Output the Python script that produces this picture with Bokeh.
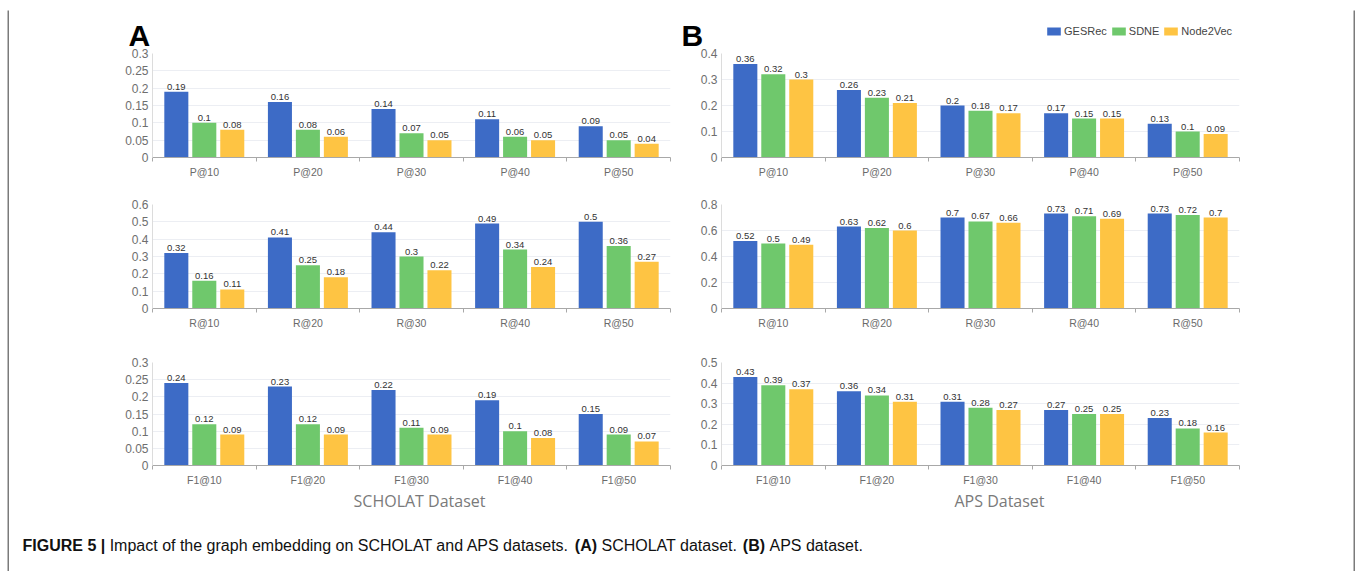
from bokeh.plotting import figure
from bokeh.layouts import column, row
from bokeh.models import (ColumnDataSource, FixedTicker, Label, Legend, LegendItem,
                          Range1d, CustomJSTickFormatter, Spacer)
from bokeh.transform import dodge
from bokeh.embed import file_html
from bokeh.resources import INLINE

# ---------------- data ----------------
methods = ["GESRec", "SDNE", "Node2Vec"]
colors = ["#3d6bc6", "#6fc86c", "#fec443"]

p_labels = ["P@10", "P@20", "P@30", "P@40", "P@50"]
r_labels = ["R@10", "R@20", "R@30", "R@40", "R@50"]
f1_labels = ["F1@10", "F1@20", "F1@30", "F1@40", "F1@50"]

scholat_p_gesrec = [0.19, 0.16, 0.14, 0.11, 0.09]
scholat_p_sdne = [0.1, 0.08, 0.07, 0.06, 0.05]
scholat_p_node2vec = [0.08, 0.06, 0.05, 0.05, 0.04]
scholat_r_gesrec = [0.32, 0.41, 0.44, 0.49, 0.5]
scholat_r_sdne = [0.16, 0.25, 0.3, 0.34, 0.36]
scholat_r_node2vec = [0.11, 0.18, 0.22, 0.24, 0.27]
scholat_f1_gesrec = [0.24, 0.23, 0.22, 0.19, 0.15]
scholat_f1_sdne = [0.12, 0.12, 0.11, 0.1, 0.09]
scholat_f1_node2vec = [0.09, 0.09, 0.09, 0.08, 0.07]

aps_p_gesrec = [0.36, 0.26, 0.2, 0.17, 0.13]
aps_p_sdne = [0.32, 0.23, 0.18, 0.15, 0.1]
aps_p_node2vec = [0.3, 0.21, 0.17, 0.15, 0.09]
aps_r_gesrec = [0.52, 0.63, 0.7, 0.73, 0.73]
aps_r_sdne = [0.5, 0.62, 0.67, 0.71, 0.72]
aps_r_node2vec = [0.49, 0.6, 0.66, 0.69, 0.7]
aps_f1_gesrec = [0.43, 0.36, 0.31, 0.27, 0.23]
aps_f1_sdne = [0.39, 0.34, 0.28, 0.25, 0.18]
aps_f1_node2vec = [0.37, 0.31, 0.27, 0.25, 0.16]

scholat_y_max = [0.3, 0.6, 0.3]
scholat_y_step = [0.05, 0.1, 0.05]
aps_y_max = [0.4, 0.8, 0.5]
aps_y_step = [0.1, 0.2, 0.1]

panel_letters = ["A", "B"]
dataset_names = ["SCHOLAT Dataset", "APS Dataset"]
caption_parts = [("FIGURE 5 |", True),
                 (" Impact of the graph embedding on SCHOLAT and APS datasets. ", False),
                 ("(A)", True), (" SCHOLAT dataset. ", False),
                 ("(B)", True), (" APS dataset.", False)]

FONT = "Liberation Sans"
BAR_OFFSETS = [-0.27, 0.0, 0.27]
BAR_WIDTH = 0.232


def make_chart(cats, series, ymax, ystep, width, height, ml, mr, mt, mb):
    n = len(cats)
    p = figure(width=width, height=height, x_range=Range1d(0, n), y_range=Range1d(0, ymax),
               output_backend="svg", toolbar_location=None, tools="",
               min_border_left=ml, min_border_right=mr, min_border_top=mt, min_border_bottom=mb,
               outline_line_color=None, background_fill_color="white", border_fill_color="white")
    data = dict(x=[i + 0.5 for i in range(n)], cat=list(cats))
    for k, vals in enumerate(series):
        data[f"s{k}"] = list(vals)
        data[f"t{k}"] = [str(v) for v in vals]
    src = ColumnDataSource(data)
    for k in range(len(series)):
        p.vbar(x=dodge("x", BAR_OFFSETS[k]), top=f"s{k}", width=BAR_WIDTH, source=src,
               fill_color=colors[k], line_color=None)
        p.text(x=dodge("x", BAR_OFFSETS[k]), y=f"s{k}", text=f"t{k}", source=src,
               text_font_size="9.5px", text_align="center", text_baseline="bottom",
               y_offset=-2, text_color="#333333", text_font={"value": FONT})
    yticks = [round(k * ystep, 4) for k in range(int(round(ymax / ystep)) + 1)]
    xa = p.xaxis[0]
    xa.ticker = FixedTicker(ticks=[i + 0.5 for i in range(n)], minor_ticks=list(range(n + 1)))
    xa.formatter = CustomJSTickFormatter(args=dict(cats=list(cats)),
                                         code="return cats[Math.floor(tick)];")
    xa.axis_line_color = "#a8a8a8"
    xa.major_tick_line_color = None
    xa.major_tick_out = 0
    xa.major_tick_in = 0
    xa.minor_tick_line_color = "#a8a8a8"
    xa.minor_tick_out = 4
    xa.minor_tick_in = 0
    xa.major_label_text_font = FONT
    xa.major_label_text_font_size = "10.5px"
    xa.major_label_text_color = "#6a6a6a"
    xa.major_label_standoff = 4
    ya = p.yaxis[0]
    ya.ticker = FixedTicker(ticks=yticks)
    ya.formatter = CustomJSTickFormatter(code="return String(Math.round(tick*1000)/1000);")
    ya.axis_line_color = "#dcdcdc"
    ya.major_tick_line_color = None
    ya.major_tick_out = 0
    ya.major_tick_in = 0
    ya.minor_tick_line_color = None
    ya.major_label_text_font = FONT
    ya.major_label_text_font_size = "12px"
    ya.major_label_text_color = "#6e6e6e"
    ya.major_label_standoff = 4
    p.xgrid.visible = False
    p.ygrid.ticker = FixedTicker(ticks=yticks)
    p.ygrid.grid_line_color = "#eceef3"
    return p


def blank_fig(w, h, fill="white"):
    b = figure(width=w, height=h, output_backend="svg", toolbar_location=None, tools="",
               min_border=0, x_axis_location=None, y_axis_location=None,
               x_range=Range1d(0, 1), y_range=Range1d(0, 1),
               background_fill_color=fill, border_fill_color=fill,
               outline_line_color=None)
    b.xgrid.visible = False
    b.ygrid.visible = False
    return b


# geometry (pixels)
CONTENT_W = 1344
WA, WB = 681, 663
A_ML, A_MR = 143, 20
B_ML, B_MR = 31, 114
ROWS = [(137, 5, 28), (155, 19, 32), (148, 22, 22)]
TOP_H = 38
BOT_H = 83

scholat_series = [
    (p_labels, [scholat_p_gesrec, scholat_p_sdne, scholat_p_node2vec]),
    (r_labels, [scholat_r_gesrec, scholat_r_sdne, scholat_r_node2vec]),
    (f1_labels, [scholat_f1_gesrec, scholat_f1_sdne, scholat_f1_node2vec]),
]
aps_series = [
    (p_labels, [aps_p_gesrec, aps_p_sdne, aps_p_node2vec]),
    (r_labels, [aps_r_gesrec, aps_r_sdne, aps_r_node2vec]),
    (f1_labels, [aps_f1_gesrec, aps_f1_sdne, aps_f1_node2vec]),
]

# top strip: panel letters + legend
top_strip = blank_fig(CONTENT_W, TOP_H)
for letter, lx in zip(panel_letters, [119, 672]):
    top_strip.add_layout(Label(x=lx, y=13, x_units="screen", y_units="screen", text=letter,
                               text_font=FONT, text_font_size="30px", text_font_style="bold",
                               text_baseline="alphabetic", text_color="black"))
# swatch-only renderers (outside the visible range) that feed the legend
legend_rends = [top_strip.vbar(x=[5], top=[0.5], width=0.1, fill_color=c, line_color=None)
                for c in colors]
legend = Legend(items=[LegendItem(label=m, renderers=[r]) for m, r in zip(methods, legend_rends)],
                location=(1036, 11), orientation="horizontal",
                glyph_width=17, glyph_height=10, label_standoff=2, spacing=3,
                padding=0, margin=0, border_line_color=None, background_fill_alpha=0,
                label_text_font=FONT, label_text_font_size="11px",
                label_text_color="#444444", label_height=12, label_width=0)
top_strip.add_layout(legend)

rows = []
for i in range(3):
    h, mt, mb = ROWS[i]
    ca, sa = scholat_series[i]
    cb, sb = aps_series[i]
    pa = make_chart(ca, sa, scholat_y_max[i], scholat_y_step[i], WA, h, A_ML, A_MR, mt, mb)
    pb = make_chart(cb, sb, aps_y_max[i], aps_y_step[i], WB, h, B_ML, B_MR, mt, mb)
    rows.append(row(pa, pb))

# bottom strip: dataset names + caption
REG = {' ': 278, '.': 278, '(': 333, ')': 333, '|': 260, 'A': 667, 'B': 667, 'C': 722, 'D': 722,
       'E': 667, 'F': 611, 'G': 778, 'H': 722, 'I': 278, 'L': 556, 'O': 778, 'P': 667, 'R': 722,
       'S': 667, 'T': 611, 'U': 722, 'a': 556, 'b': 556, 'c': 500, 'd': 556, 'e': 556, 'f': 278,
       'g': 556, 'h': 556, 'i': 222, 'm': 833, 'n': 556, 'o': 556, 'p': 556, 'r': 333, 's': 500,
       't': 278}
BOLD = {' ': 278, '(': 333, ')': 333, '|': 280, 'A': 722, 'B': 722, 'E': 667, 'F': 611, 'G': 778,
        'I': 278, 'R': 722, 'U': 722}


def tw(s, bold, size):
    tab = BOLD if bold else REG
    return sum(tab.get(ch, 556) for ch in s) * size / 1000.0


bottom = blank_fig(CONTENT_W, BOT_H)
for name, nx in zip(dataset_names, [410, 990]):
    bottom.add_layout(Label(x=nx, y=71, x_units="screen", y_units="screen", text=name,
                            text_font="Open Sans", text_font_size="16px", text_align="center",
                            text_baseline="middle", text_color="#7a7a7a"))
cx = 13.0
CAP_SIZE = 16
for txt, bold in caption_parts:
    lead = len(txt) - len(txt.lstrip(" "))
    cx += tw(" " * lead, bold, CAP_SIZE)
    core = txt.strip(" ")
    bottom.add_layout(Label(x=cx, y=26, x_units="screen", y_units="screen", text=core,
                            text_font=FONT, text_font_size=f"{CAP_SIZE}px",
                            text_font_style="bold" if bold else "normal",
                            text_baseline="alphabetic", text_color="#111111"))
    cx += tw(txt.lstrip(" "), bold, CAP_SIZE)

content = column(top_strip, *rows, bottom)
H = TOP_H + sum(r[0] for r in ROWS) + BOT_H
body = row(Spacer(width=7, height=H), blank_fig(2, H, "#7b7b7b"), content, blank_fig(2, H, "#7b7b7b"))
top = row(Spacer(width=7, height=2), blank_fig(1348, 2, "#7b7b7b"))
root = column(Spacer(width=1357, height=8), top, body)

open("out.html", "w").write(file_html(root, INLINE))
